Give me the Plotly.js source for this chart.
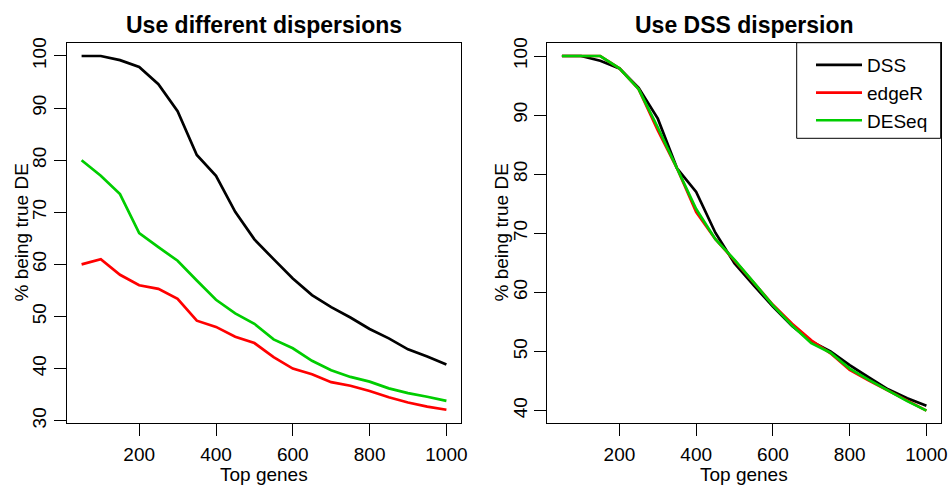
<!DOCTYPE html>
<html>
<head>
<meta charset="utf-8">
<script src="https://cdn.plot.ly/plotly-3.0.1.min.js"></script>
<style>html,body{margin:0;padding:0;background:#fff}</style>
</head>
<body>
<div id="chart" style="width:950px;height:485px"></div>
<script>
// Top genes (x)
const topGenes = [50,100,150,200,250,300,350,400,450,500,550,600,650,700,750,800,850,900,950,1000];
// Left panel: different dispersions
const dssLeft    = [100,100,99.2,97.9,94.6,89.4,81.0,77.0,70.1,64.8,61.0,57.3,54.1,51.8,49.8,47.6,45.8,43.7,42.3,40.8];
const edgeRLeft  = [60.0,61.0,58.0,56.0,55.3,53.4,49.2,48.0,46.1,44.9,42.2,40.0,38.9,37.4,36.7,35.7,34.5,33.5,32.7,32.1];
const deseqLeft  = [80.0,77.0,73.5,66.0,63.3,60.7,56.9,53.2,50.6,48.6,45.6,43.9,41.5,39.7,38.4,37.5,36.2,35.3,34.6,33.8];
// Right panel: DSS dispersion
const dssRight   = [100,100,99.2,97.9,94.6,89.4,81.0,77.0,70.1,64.9,61.2,57.6,54.3,51.7,50.0,47.7,45.6,43.6,42.1,40.8];
const edgeRRight = [100,100,100,97.9,94.4,87.4,81.0,73.6,69.0,65.4,61.7,57.9,54.7,51.9,49.7,46.9,45.1,43.4,41.6,40.0];
const deseqRight = [100,100,100,97.9,94.4,87.9,81.0,74.1,69.0,65.5,61.7,57.8,54.4,51.4,49.8,47.1,45.2,43.4,41.6,40.0];
// Labels
const seriesNames = ["DSS","edgeR","DESeq"];
const panelTitles = ["Use different dispersions","Use DSS dispersion"];
const xTicks = [200,400,600,800,1000];
const yTicksLeft = [30,40,50,60,70,80,90,100];
const yTicksRight = [40,50,60,70,80,90,100];
const xLabel = "Top genes";
const yLabel = "% being true DE";

const colors = ["#000000","#FF0000","#00CD00"];
const FONT = "Liberation Sans, Arial, Helvetica, sans-serif";
const FS = 19;
const W = 950, H = 485;

function line(x, y, name, color, xa, ya, showlegend) {
  return {x: x, y: y, type: "scatter", mode: "lines", name: name,
    line: {color: color, width: 2.7}, xaxis: xa, yaxis: ya, showlegend: showlegend,
    hoverinfo: "skip"};
}

const data = [
  line(topGenes, dssLeft, seriesNames[0], colors[0], "x", "y", false),
  line(topGenes, edgeRLeft, seriesNames[1], colors[1], "x", "y", false),
  line(topGenes, deseqLeft, seriesNames[2], colors[2], "x", "y", false),
  line(topGenes, dssRight, seriesNames[0], colors[0], "x2", "y2", true),
  line(topGenes, edgeRRight, seriesNames[1], colors[1], "x2", "y2", true),
  line(topGenes, deseqRight, seriesNames[2], colors[2], "x2", "y2", true)
];

const boxTop = 42.7, boxBottom = 423.3;
const L = [67, 461], R = [547.3, 941];
const yDom = [1 - boxBottom / H, 1 - boxTop / H];

function xAxis(dom) {
  return {domain: [dom[0] / W, dom[1] / W], range: [12, 1038], tickvals: xTicks,
    ticks: "outside", ticklen: 12, tickwidth: 1, tickcolor: "#000", ticklabelstandoff: 2,
    showline: true, mirror: true, linecolor: "#000", linewidth: 1,
    showgrid: false, zeroline: false, tickfont: {family: FONT, size: FS, color: "#000"}};
}
function yAxis(range, ticks, anchor) {
  return {domain: yDom, range: range, tickvals: ticks, tickangle: -90, anchor: anchor,
    ticks: "outside", ticklen: 12, tickwidth: 1, tickcolor: "#000",
    showline: true, mirror: true, linecolor: "#000", linewidth: 1,
    showgrid: false, zeroline: false, tickfont: {family: FONT, size: FS, color: "#000"}};
}

const cxL = (L[0] + L[1]) / 2 / W, cxR = (R[0] + R[1]) / 2 / W;
const cy = 1 - ((boxTop + boxBottom) / 2) / H;
function ann(text, x, y, opts) {
  return Object.assign({text: text, x: x, y: y, xref: "paper", yref: "paper", showarrow: false,
    xanchor: "center", yanchor: "middle", font: {family: FONT, size: FS, color: "#000"}}, opts || {});
}

const layout = {
  width: W, height: H,
  margin: {l: 0, r: 0, t: 0, b: 0},
  paper_bgcolor: "#fff", plot_bgcolor: "#fff",
  font: {family: FONT, color: "#000"},
  xaxis: Object.assign(xAxis(L), {anchor: "y"}),
  yaxis: yAxis([29.5, 102.55], yTicksLeft, "x"),
  xaxis2: Object.assign(xAxis(R), {anchor: "y2"}),
  yaxis2: yAxis([37.85, 102.25], yTicksRight, "x2"),
  showlegend: true,
  legend: {x: 811 / W, xanchor: "left", y: 1 - 46 / H, yanchor: "top",
    borderwidth: 0, bgcolor: "rgba(0,0,0,0)",
    font: {family: FONT, size: FS, color: "#000"}, itemwidth: 46, tracegroupgap: 0},
  shapes: [
    {type: "rect", xref: "paper", yref: "paper", x0: 796.7 / W, x1: 940.7 / W,
      y0: 1 - 138.3 / H, y1: 1 - boxTop / H, line: {color: "#000", width: 1},
      fillcolor: "#fff", layer: "above"}
  ],
  annotations: [
    ann("<b>" + panelTitles[0] + "</b>", cxL, 1 - 25 / H, {font: {family: FONT, size: 23, color: "#000"}}),
    ann("<b>" + panelTitles[1] + "</b>", cxR, 1 - 25 / H, {font: {family: FONT, size: 23, color: "#000"}}),
    ann(xLabel, cxL, 1 - 474 / H),
    ann(xLabel, cxR, 1 - 474 / H),
    ann(yLabel, 20.5 / W, cy, {textangle: -90}),
    ann(yLabel, 500.5 / W, cy, {textangle: -90})
  ]
};

Plotly.newPlot("chart", data, layout, {displayModeBar: false, staticPlot: true});
</script>
</body>
</html>
